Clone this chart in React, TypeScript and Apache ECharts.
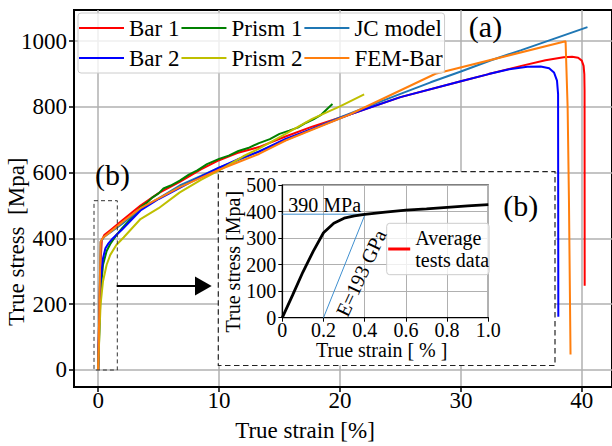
import React, { useEffect, useRef } from "react";
import * as echarts from "echarts";

const SERIF = "Liberation Serif";

// Main axes ticks (strain in %, stress in MPa)
const xTicks = [0, 10, 20, 30, 40];
const yTicks = [0, 200, 400, 600, 800, 1000];

// Bar 1 test
const bar1Strain = [0, 0.1, 0.2, 0.3, 0.5, 1, 2, 3.5, 5, 6.75, 8.5, 10, 11.5, 13.3, 15.5, 17.7, 20.8, 25, 30, 32.3, 35, 37, 38.5, 39.2, 39.7, 40.0, 40.15, 40.21, 40.23, 40.24];
const bar1Stress = [0, 200, 330, 395, 410, 425, 455, 500, 538, 572, 610, 638, 660, 678, 710, 740, 777, 830, 878, 900, 925, 942, 951, 953, 950, 941, 925, 900, 850, 256];

// Bar 2 test
const bar2Strain = [0, 0.1, 0.2, 0.4, 0.6, 0.85, 1.2, 2, 3.5, 5, 6.75, 8.5, 10, 11.5, 13.3, 15.5, 17.7, 20.8, 25, 30, 32.3, 34, 35.5, 36.6, 37.3, 37.7, 37.95, 38.04, 38.06];
const bar2Stress = [0, 150, 270, 340, 370, 385, 400, 428, 485, 520, 554, 588, 615, 640, 664, 703, 733, 777, 830, 878, 900, 915, 922, 923, 918, 905, 880, 840, 162];

// Prism 1 test
const prism1Strain = [0, 0.1, 0.2, 0.4, 0.7, 1, 1.5, 2, 2.5, 3, 3.5, 4, 4.5, 5, 5.4, 6, 6.75, 7.5, 8.2, 9, 10, 10.8, 11.6, 12.4, 13.3, 14.2, 15, 15.8, 16.5, 17.2, 17.8, 18.4, 19, 19.38];
const prism1Stress = [0, 120, 240, 320, 362, 383, 410, 432, 452, 472, 495, 508, 525, 537, 552, 561, 576, 594, 607, 626, 642, 652, 666, 675, 690, 702, 718, 728, 737, 752, 762, 775, 796, 809];

// Prism 2 test
const prism2Strain = [0, 0.1, 0.2, 0.4, 0.7, 1, 1.5, 2.1, 3.5, 5, 6.75, 8.5, 10, 12, 13.3, 15.5, 17.7, 20, 22];
const prism2Stress = [0, 110, 200, 270, 320, 350, 380, 403, 459, 492, 540, 578, 607, 650, 673, 718, 764, 802, 838];

// Johnson-Cook model
const jcStrain = [0, 0.2, 0.5, 1, 2, 3.5, 5, 6.75, 8.5, 10, 12.5, 15, 17.5, 20, 22.5, 25, 27.5, 30, 32.5, 35, 37.5, 40.47];
const jcStress = [0, 390, 405, 418, 445, 490, 522, 561, 590, 615, 652, 692, 730, 768, 804, 840, 875, 908, 942, 973, 1005, 1043];

// FEM model of the bar
const femStrain = [0, 0.2, 0.4, 1, 2, 3.5, 5, 6.75, 10, 13.3, 15.5, 20.8, 27.9, 38.66, 38.83, 38.94, 39.07];
const femStress = [0, 390, 402, 420, 450, 492, 522, 556, 609, 657, 698, 777, 901, 1000, 799, 515, 47];

// Inset: averaged test data, small-strain region
const avgStrain = [0, 0.05, 0.1, 0.15, 0.2, 0.25, 0.3, 0.35, 0.4, 0.5, 0.6, 0.7, 0.8, 0.9, 1.0];
const avgStress = [0, 85, 172, 250, 320, 356, 375, 384, 389, 398, 405, 410, 416, 421, 426];

// Yield point and elastic modulus used by the 0.2 % offset construction
const yieldStress = 390; // MPa
const modulusGPa = 193;
const offsetStrain = 0.2; // %

const pairs = (xs: number[], ys: number[]) => xs.map((x, i) => [x, ys[i]]);

const mainSeries = [
  { name: "Bar 1", color: "#ff0000", x: bar1Strain, y: bar1Stress },
  { name: "Prism 1", color: "#008000", x: prism1Strain, y: prism1Stress },
  { name: "JC model", color: "#1f77b4", x: jcStrain, y: jcStress },
  { name: "Bar 2", color: "#0000ff", x: bar2Strain, y: bar2Stress },
  { name: "Prism 2", color: "#bfbf00", x: prism2Strain, y: prism2Stress },
  { name: "FEM-Bar", color: "#ff7f0e", x: femStrain, y: femStress },
];

export default function App() {
  const ref = useRef<HTMLDivElement>(null);

  useEffect(() => {
    if (!ref.current) return;
    const chart = echarts.init(ref.current, null, { renderer: "svg" });

    const yieldEndStrain = offsetStrain + (yieldStress / (modulusGPa * 1000)) * 100;

    const gridLine = { show: true, lineStyle: { color: "#b0b0b0", width: 1.5 } };
    const mainLabel = { color: "#000", fontFamily: SERIF, fontSize: 23 };
    const insetLabel = { color: "#000", fontFamily: SERIF, fontSize: 20, lineHeight: 20 };
    const plain = (v: number) => String(v);

    chart.setOption({
      animation: false,
      backgroundColor: "#ffffff",
      textStyle: { fontFamily: SERIF },
      grid: [
        { left: 74, top: 10, right: -2, bottom: 59, show: true, borderColor: "#000", borderWidth: 2, z: 0 },
        { left: 282.3, top: 185, width: 206, height: 132.7, show: true, backgroundColor: "#ffffff", borderColor: "#000", borderWidth: 1.2, z: 2 },
      ],
      xAxis: [
        {
          gridIndex: 0, type: "value", min: -2, max: 42.5, z: 0,
          axisLine: { show: true, onZero: false, lineStyle: { color: "#000", width: 2 } },
          axisTick: { show: true, length: 5, customValues: xTicks, lineStyle: { color: "#000", width: 1.5 } },
          axisLabel: { ...mainLabel, customValues: xTicks, margin: 2, formatter: plain },
          splitLine: gridLine,
        },
        {
          gridIndex: 1, type: "value", min: 0, max: 1, interval: 0.2, z: 3,
          axisLine: { show: true, onZero: false, lineStyle: { color: "#000", width: 1.2 } },
          axisTick: { show: true, length: 4, lineStyle: { color: "#000", width: 1 } },
          axisLabel: { ...insetLabel, margin: 2.5, formatter: (v: number) => (v === 0 ? "0" : v.toFixed(1)) },
          splitLine: { show: true, lineStyle: { color: "#b0b0b0", width: 1 } },
        },
      ],
      yAxis: [
        {
          gridIndex: 0, type: "value", min: -52, max: 1095, z: 0,
          axisLine: { show: true, onZero: false, lineStyle: { color: "#000", width: 2 } },
          axisTick: { show: true, length: 5, customValues: yTicks, lineStyle: { color: "#000", width: 1.5 } },
          axisLabel: { ...mainLabel, customValues: yTicks, margin: 7, formatter: plain },
          splitLine: gridLine,
        },
        {
          gridIndex: 1, type: "value", min: 0, max: 500, interval: 100, z: 3,
          axisLine: { show: true, onZero: false, lineStyle: { color: "#000", width: 1.2 } },
          axisTick: { show: true, length: 4, lineStyle: { color: "#000", width: 1 } },
          axisLabel: { ...insetLabel, margin: 6, formatter: plain },
          splitLine: { show: true, lineStyle: { color: "#b0b0b0", width: 1 } },
        },
      ],
      legend: [
        {
          data: mainSeries.map((s) => ({ name: s.name, icon: "rect" })),
          left: 78, top: 13, width: 372,
          itemWidth: 45, itemHeight: 2, itemGap: 2,
          padding: [1, 2, 1, 1],
          backgroundColor: "rgba(255,255,255,0.8)",
          borderColor: "#cccccc", borderWidth: 1, borderRadius: 3,
          textStyle: { fontFamily: SERIF, fontSize: 23, color: "#000", lineHeight: 28 },
          z: 6,
        },
        {
          data: [{ name: "Average\ntests data", icon: "rect", itemStyle: { color: "#ff0000" } }],
          left: 386.7, top: 223.3,
          itemWidth: 22, itemHeight: 3,
          padding: [4, 0, 4, 1.5],
          backgroundColor: "rgba(255,255,255,0.8)",
          borderColor: "#cccccc", borderWidth: 1, borderRadius: 3,
          textStyle: { fontFamily: SERIF, fontSize: 20, color: "#000", lineHeight: 21.7 },
          z: 6,
        },
      ],
      series: [
        ...mainSeries.map((s) => ({
          name: s.name, type: "line", xAxisIndex: 0, yAxisIndex: 0,
          data: pairs(s.x, s.y), symbol: "none", color: s.color,
          lineStyle: { color: s.color, width: 2 }, z: 2,
        })),
        {
          name: "Average\ntests data", type: "line", xAxisIndex: 1, yAxisIndex: 1,
          data: pairs(avgStrain, avgStress), symbol: "none", color: "#000",
          lineStyle: { color: "#000", width: 2.8 }, z: 5,
        },
        {
          name: "yield", type: "line", xAxisIndex: 1, yAxisIndex: 1,
          data: [[0, yieldStress], [yieldEndStrain, yieldStress]], symbol: "none",
          lineStyle: { color: "#3f8fcf", width: 1 }, z: 4,
        },
        {
          name: "modulus", type: "line", xAxisIndex: 1, yAxisIndex: 1,
          data: [[offsetStrain, 0], [yieldEndStrain, yieldStress]], symbol: "none",
          lineStyle: { color: "#3f8fcf", width: 1 }, z: 4,
        },
      ],
      graphic: [
        // white panel behind the zoomed view
        {
          type: "rect", z: 1, shape: { x: 218.3, y: 171.7, width: 336.7, height: 193.8 },
          style: { fill: "#ffffff", stroke: "#222", lineWidth: 1.2, lineDash: [5.5, 3.5] },
        },
        // zoom window near the origin
        {
          type: "rect", z: 3, shape: { x: 94, y: 200.7, width: 23.3, height: 169.3 },
          style: { fill: "none", stroke: "#333", lineWidth: 1, lineDash: [4, 3] },
        },
        { type: "line", z: 3, shape: { x1: 116.7, y1: 286, x2: 198, y2: 286 }, style: { stroke: "#000", lineWidth: 2 } },
        { type: "polygon", z: 3, shape: { points: [[195, 276.5], [211.7, 286], [195, 295.5]] }, style: { fill: "#000" } },
        { type: "text", z: 6, x: 485.5, y: 26, style: { text: "(a)", font: `30px ${SERIF}`, fill: "#000", align: "center", verticalAlign: "middle" } },
        { type: "text", z: 6, x: 112.5, y: 174.2, style: { text: "(b)", font: `30px ${SERIF}`, fill: "#000", align: "center", verticalAlign: "middle" } },
        { type: "text", z: 6, x: 520.8, y: 205, style: { text: "(b)", font: `30px ${SERIF}`, fill: "#000", align: "center", verticalAlign: "middle" } },
        { type: "text", z: 6, x: 288.3, y: 204.5, style: { text: `${yieldStress} MPa`, font: `20px ${SERIF}`, fill: "#000", align: "left", verticalAlign: "middle" } },
        { type: "text", z: 6, x: 361, y: 273, rotation: (65 * Math.PI) / 180, style: { text: `E=${modulusGPa} GPa`, font: `20px ${SERIF}`, fill: "#000", align: "center", verticalAlign: "middle" } },
        { type: "text", z: 6, x: 305, y: 430.8, style: { text: "True strain [%]", font: `23px ${SERIF}`, fill: "#000", align: "center", verticalAlign: "middle" } },
        { type: "text", z: 6, x: 16.1, y: 241.7, rotation: Math.PI / 2, style: { text: "True stress  [Mpa]", font: `23px ${SERIF}`, fill: "#000", align: "center", verticalAlign: "middle" } },
        { type: "text", z: 6, x: 381.7, y: 350, style: { text: "True strain [ % ]", font: `20px ${SERIF}`, fill: "#000", align: "center", verticalAlign: "middle" } },
        { type: "text", z: 6, x: 233, y: 261.7, rotation: Math.PI / 2, style: { text: "True stress [Mpa]", font: `20px ${SERIF}`, fill: "#000", align: "center", verticalAlign: "middle" } },
      ],
    });

    return () => chart.dispose();
  }, []);

  return (
    <div
      ref={ref}
      style={{ position: "fixed", left: 0, top: 0, width: 612, height: 446, background: "#ffffff" }}
    />
  );
}
